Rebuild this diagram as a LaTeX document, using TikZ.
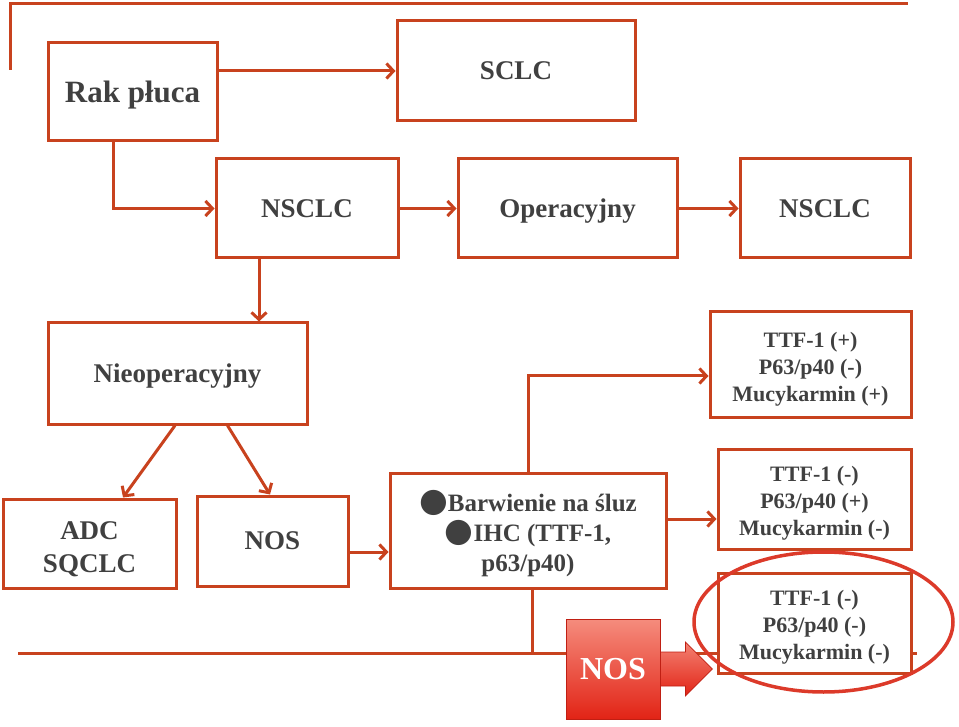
\documentclass[tikz,border=0pt]{standalone}
\usepackage{fontspec}
\setmainfont{Liberation Serif}
\newfontfamily\symfont{DejaVu Sans}
\usetikzlibrary{arrows.meta}

\definecolor{lineRed}{RGB}{200,66,30}
\definecolor{txtGray}{RGB}{64,64,64}
\definecolor{ringRed}{RGB}{220,58,42}
\definecolor{nosTop}{RGB}{245,140,125}
\definecolor{nosBot}{RGB}{226,36,22}

\newcommand\bigdot{{\symfont\fontsize{33}{30}\selectfont ●}}
\newcommand\vstrut{\rule{0pt}{1.15em}}

\begin{document}
\begin{tikzpicture}[
  x=1pt, y=-1pt,
  box/.style={draw=lineRed, line width=3pt, fill=white, align=center,
              inner sep=0pt, text=txtGray,
              font=\bfseries\fontsize{27}{33}\selectfont,
              execute at begin node={\rule[-0.25em]{0pt}{1.15em}}},
  small/.style={font=\bfseries\fontsize{22}{27}\selectfont},
  flow/.style={draw=lineRed, line width=3pt, -{Straight Barb[length=7pt,width=15pt]}},
  frame/.style={draw=lineRed, line width=3pt},
  ring/.style={draw=ringRed, line width=3.5pt},
  nosbox/.style={top color=nosTop, bottom color=nosBot, draw=nosBot!85!black,
                 line width=0.8pt, text=white, inner sep=0pt,
                 font=\bfseries\fontsize{32}{36}\selectfont}
]
  \useasboundingbox (0,0) rectangle (959,727);

  % slide frame
  \draw[frame] (10,70) -- (10,4) -- (908,4);
  \draw[frame] (18,653) -- (917,653);

  \node[box, minimum width=169pt, minimum height=98pt,
        font=\bfseries\fontsize{31}{36}\selectfont] (rak) at (132.5,92) {Rak płuca};
  \node[box, minimum width=238pt, minimum height=100pt] (sclc) at (516,71) {SCLC};
  \node[box, minimum width=182pt, minimum height=99pt] (nsclcA) at (307,208.5) {NSCLC};
  \node[box, minimum width=219pt, minimum height=99pt] (oper) at (567.5,208.5) {Operacyjny};
  \node[box, minimum width=170pt, minimum height=99pt] (nsclcB) at (825,208.5) {NSCLC};
  \node[box, minimum width=259pt, minimum height=101pt] (nieop) at (177.5,373.5) {Nieoperacyjny};
  \node[box, minimum width=173pt, minimum height=89pt] (adcsq) at (89.5,543.5) {\vstrut ADC\\SQCLC};
  \node[box, minimum width=151pt, minimum height=90pt] (nosA) at (272.5,541) {NOS};
  \node[box, minimum width=276pt, minimum height=115pt,
        font=\bfseries\fontsize{25}{30}\selectfont] (barw) at (528,530.5)
        {\vstrut\bigdot Barwienie na śluz\\\bigdot IHC (TTF-1,\\p63/p40)};
  \node[box, small, minimum width=201pt, minimum height=105pt] (ttfA) at (810.5,364.5)
        {\vstrut TTF-1 (+)\\P63/p40 (-)\\Mucykarmin (+)};
  \node[box, small, minimum width=193pt, minimum height=100pt] (ttfB) at (814.5,499)
        {\vstrut TTF-1 (-)\\P63/p40 (+)\\Mucykarmin (-)};
  \node[box, small, minimum width=193pt, minimum height=100pt] (ttfC) at (814.5,623)
        {\vstrut TTF-1 (-)\\P63/p40 (-)\\Mucykarmin (-)};
  \node[nosbox, minimum width=94pt, minimum height=100pt] (nosB) at (613,669) {NOS};

  \draw[flow] (rak.east |- sclc.west) -- (sclc.west);
  \draw[flow] ([xshift=-19.5pt]rak.south) |- (nsclcA.west);
  \draw[flow] (nsclcA) -- (oper);
  \draw[flow] (oper) -- (nsclcB);
  \draw[flow] ([xshift=-48pt]nsclcA.south) -- ([xshift=-48pt]nsclcA.south |- nieop.north);
  \draw[flow] ([xshift=-2.5pt]nieop.south) -- ([xshift=33.5pt]adcsq.north);
  \draw[flow] ([xshift=50pt]nieop.south) -- ([xshift=-2.5pt]nosA.north);
  \draw[flow] ([yshift=-11pt]nosA.east) -- ([yshift=-11pt]nosA.east -| barw.west);
  \draw[flow] (barw.north) |- ([yshift=-11.5pt]ttfA.west);
  \draw[flow] ([yshift=11.5pt]barw.east) -- ([yshift=11.5pt]barw.east -| ttfB.west);
  \draw[frame] ([xshift=4pt]barw.south) |- ([yshift=16pt]nosB.west);

  % big red arrow out of the NOS box
  \path[top color=nosTop!90!nosBot, bottom color=nosBot, draw=nosBot!85!black, line width=0.8pt]
    (nosB.east) ++(0,-17) -- ++(25,0) -- ++(0,-10) -- ++(27,27)
    -- ++(-27,27) -- ++(0,-10) -- ++(-25,0) -- cycle;

  \draw[ring] ([xshift=9pt,yshift=1pt]ttfC.center) ellipse [x radius=129.5pt, y radius=70pt];
\end{tikzpicture}
\end{document}
